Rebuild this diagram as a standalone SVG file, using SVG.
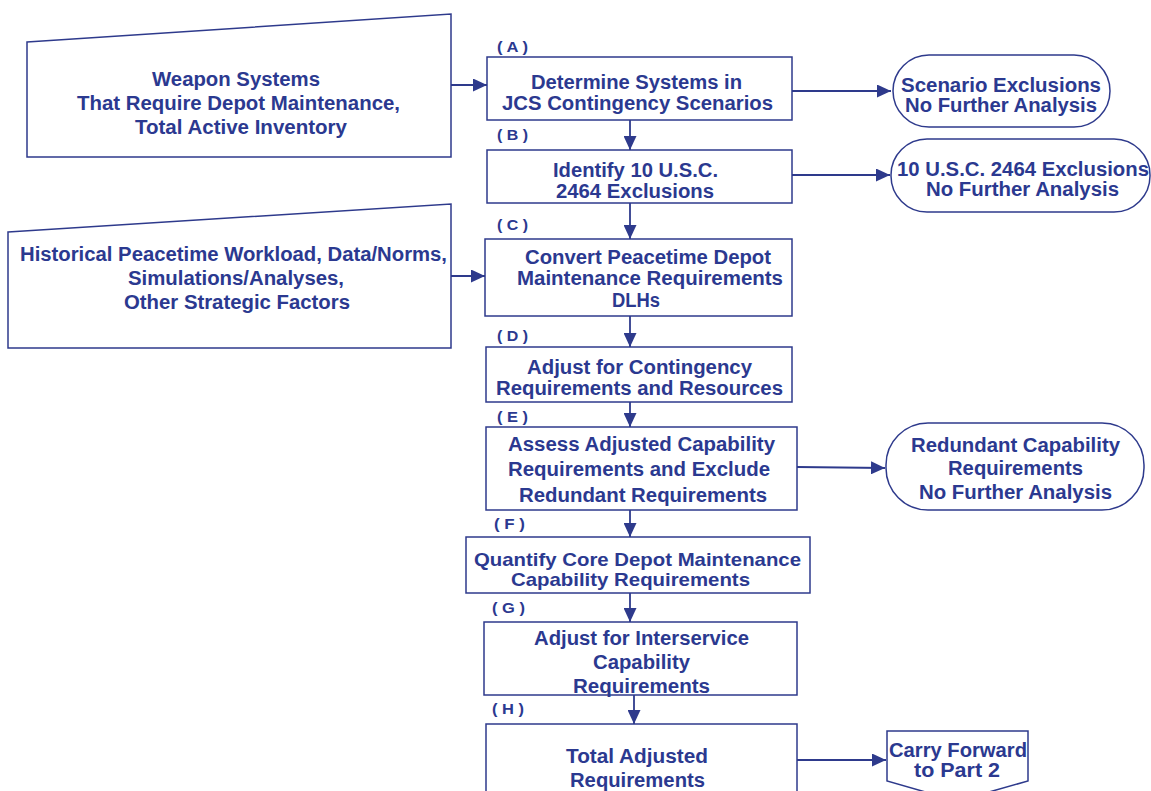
<svg xmlns="http://www.w3.org/2000/svg" width="1151" height="791" viewBox="0 0 1151 791">
<style>
.s{fill:#fff;stroke:#2E3A8C;stroke-width:1.5}
.t{font-family:"Liberation Sans",Arial,sans-serif;font-weight:bold;font-size:20px;fill:#2B3990;text-anchor:middle}
.l{font-family:"Liberation Sans",Arial,sans-serif;font-weight:bold;font-size:15px;fill:#2B3990}
.c{stroke:#2E3A8C;stroke-width:1.8;fill:none}
</style>
<defs>
<marker id="ah" viewBox="0 0 14 13" refX="14" refY="6.5" markerWidth="14" markerHeight="13" markerUnits="userSpaceOnUse" orient="auto">
<path d="M0,0 L14,6.5 L0,13 z" fill="#2E3A8C"/>
</marker>
</defs>
<rect width="1151" height="791" fill="#fff"/>
<g id="connectors">
<line class="c" x1="451" y1="85" x2="487" y2="85" marker-end="url(#ah)"/>
<line class="c" x1="451" y1="276" x2="485" y2="276" marker-end="url(#ah)"/>
<line class="c" x1="792" y1="91" x2="891" y2="91" marker-end="url(#ah)"/>
<line class="c" x1="792" y1="175" x2="890" y2="175" marker-end="url(#ah)"/>
<line class="c" x1="797" y1="467" x2="885" y2="468" marker-end="url(#ah)"/>
<line class="c" x1="797" y1="760" x2="886" y2="760" marker-end="url(#ah)"/>
<line class="c" x1="630" y1="120" x2="630" y2="150" marker-end="url(#ah)"/>
<line class="c" x1="630" y1="203" x2="630" y2="239" marker-end="url(#ah)"/>
<line class="c" x1="630" y1="316" x2="630" y2="347" marker-end="url(#ah)"/>
<line class="c" x1="630" y1="402" x2="630" y2="427" marker-end="url(#ah)"/>
<line class="c" x1="630" y1="510" x2="630" y2="537" marker-end="url(#ah)"/>
<line class="c" x1="630" y1="593" x2="630" y2="622" marker-end="url(#ah)"/>
<line class="c" x1="634" y1="695" x2="634" y2="724" marker-end="url(#ah)"/>
</g>
<g id="weapon">
<polygon class="s" points="27,42 451,14 451,157 27,157"/>
<text class="t" x="236" y="86" textLength="168" lengthAdjust="spacingAndGlyphs">Weapon Systems</text>
<text class="t" x="238.5" y="110" textLength="323" lengthAdjust="spacingAndGlyphs">That Require Depot Maintenance,</text>
<text class="t" x="241" y="134" textLength="212" lengthAdjust="spacingAndGlyphs">Total Active Inventory</text>
</g>
<g id="historical">
<polygon class="s" points="8,232 451,204 451,348 8,348"/>
<text class="t" x="233.5" y="261" textLength="427" lengthAdjust="spacingAndGlyphs">Historical Peacetime Workload, Data/Norms,</text>
<text class="t" x="236" y="285" textLength="216" lengthAdjust="spacingAndGlyphs">Simulations/Analyses,</text>
<text class="t" x="237" y="309" textLength="226" lengthAdjust="spacingAndGlyphs">Other Strategic Factors</text>
</g>
<g id="A">
<text class="l" x="497" y="52" textLength="31" lengthAdjust="spacingAndGlyphs">( A )</text>
<rect class="s" x="487" y="57" width="305" height="63"/>
<text class="t" x="636.5" y="89" textLength="211" lengthAdjust="spacingAndGlyphs">Determine Systems in</text>
<text class="t" x="637.5" y="110" textLength="271" lengthAdjust="spacingAndGlyphs">JCS Contingency Scenarios</text>
</g>
<g id="scenarioExcl">
<rect class="s" x="893" y="55" width="217" height="72" rx="36" ry="36"/>
<text class="t" x="1001" y="92" textLength="200" lengthAdjust="spacingAndGlyphs">Scenario Exclusions</text>
<text class="t" x="1001" y="112" textLength="192" lengthAdjust="spacingAndGlyphs">No Further Analysis</text>
</g>
<g id="B">
<text class="l" x="497" y="140" textLength="31" lengthAdjust="spacingAndGlyphs">( B )</text>
<rect class="s" x="487" y="150" width="305" height="53"/>
<text class="t" x="635.5" y="177" textLength="165" lengthAdjust="spacingAndGlyphs">Identify 10 U.S.C.</text>
<text class="t" x="635" y="198" textLength="158" lengthAdjust="spacingAndGlyphs">2464 Exclusions</text>
</g>
<g id="uscExcl">
<rect class="s" x="891" y="139" width="259" height="73" rx="36" ry="36"/>
<text class="t" x="1023" y="176" textLength="252" lengthAdjust="spacingAndGlyphs">10 U.S.C. 2464 Exclusions</text>
<text class="t" x="1022.5" y="196" textLength="193" lengthAdjust="spacingAndGlyphs">No Further Analysis</text>
</g>
<g id="C">
<text class="l" x="497" y="230" textLength="31" lengthAdjust="spacingAndGlyphs">( C )</text>
<rect class="s" x="485" y="239" width="307" height="77"/>
<text class="t" x="648" y="264" textLength="246" lengthAdjust="spacingAndGlyphs">Convert Peacetime Depot</text>
<text class="t" x="650" y="285" textLength="266" lengthAdjust="spacingAndGlyphs">Maintenance Requirements</text>
<text class="t" x="636" y="307" textLength="48" lengthAdjust="spacingAndGlyphs">DLHs</text>
</g>
<g id="D">
<text class="l" x="497" y="341" textLength="31" lengthAdjust="spacingAndGlyphs">( D )</text>
<rect class="s" x="486" y="347" width="306" height="55"/>
<text class="t" x="639.5" y="374" textLength="225" lengthAdjust="spacingAndGlyphs">Adjust for Contingency</text>
<text class="t" x="639.5" y="395" textLength="287" lengthAdjust="spacingAndGlyphs">Requirements and Resources</text>
</g>
<g id="E">
<text class="l" x="497" y="422" textLength="31" lengthAdjust="spacingAndGlyphs">( E )</text>
<rect class="s" x="486" y="427" width="311" height="83"/>
<text class="t" x="641.5" y="451" textLength="267" lengthAdjust="spacingAndGlyphs">Assess Adjusted Capability</text>
<text class="t" x="639" y="476" textLength="262" lengthAdjust="spacingAndGlyphs">Requirements and Exclude</text>
<text class="t" x="643" y="502" textLength="248" lengthAdjust="spacingAndGlyphs">Redundant Requirements</text>
</g>
<g id="redundant">
<rect class="s" x="886" y="423" width="258" height="87" rx="42" ry="42"/>
<text class="t" x="1015.5" y="452" textLength="209" lengthAdjust="spacingAndGlyphs">Redundant Capability</text>
<text class="t" x="1015.5" y="475" textLength="135" lengthAdjust="spacingAndGlyphs">Requirements</text>
<text class="t" x="1015.5" y="499" textLength="193" lengthAdjust="spacingAndGlyphs">No Further Analysis</text>
</g>
<g id="F">
<text class="l" x="494" y="529" textLength="31" lengthAdjust="spacingAndGlyphs">( F )</text>
<rect class="s" x="466" y="537" width="344" height="56"/>
<text class="t" x="637.5" y="566" style="font-size:19px" textLength="327" lengthAdjust="spacingAndGlyphs">Quantify Core Depot Maintenance</text>
<text class="t" x="630.5" y="586" style="font-size:19px" textLength="239" lengthAdjust="spacingAndGlyphs">Capability Requirements</text>
</g>
<g id="G">
<text class="l" x="492" y="613" textLength="33" lengthAdjust="spacingAndGlyphs">( G )</text>
<rect class="s" x="484" y="622" width="313" height="73"/>
<text class="t" x="641.5" y="645" textLength="215" lengthAdjust="spacingAndGlyphs">Adjust for Interservice</text>
<text class="t" x="641.5" y="669" textLength="97" lengthAdjust="spacingAndGlyphs">Capability</text>
<text class="t" x="641.5" y="693" textLength="137" lengthAdjust="spacingAndGlyphs">Requirements</text>
</g>
<g id="H">
<text class="l" x="492" y="714" textLength="32" lengthAdjust="spacingAndGlyphs">( H )</text>
<rect class="s" x="486" y="724" width="311" height="80"/>
<text class="t" x="637" y="763" textLength="142" lengthAdjust="spacingAndGlyphs">Total Adjusted</text>
<text class="t" x="637.5" y="787" textLength="135" lengthAdjust="spacingAndGlyphs">Requirements</text>
</g>
<g id="carry">
<polygon class="s" points="887,731 1028,731 1028,781 957,801 887,781"/>
<text class="t" x="958" y="757" textLength="138" lengthAdjust="spacingAndGlyphs">Carry Forward</text>
<text class="t" x="957" y="777" textLength="86" lengthAdjust="spacingAndGlyphs">to Part 2</text>
</g>
</svg>
